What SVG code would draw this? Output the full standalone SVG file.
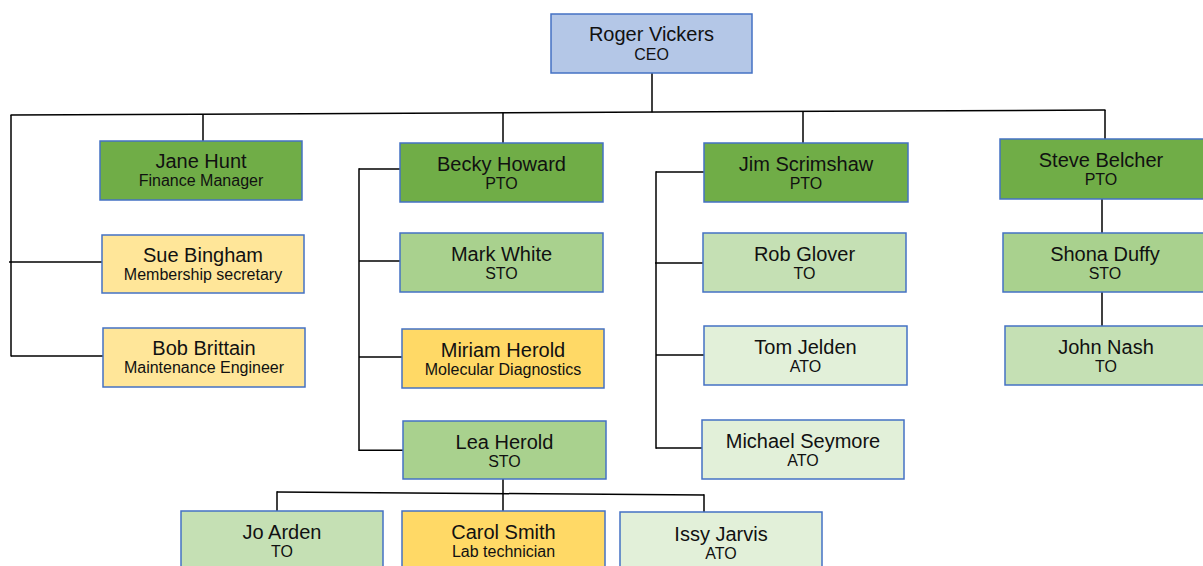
<svg xmlns="http://www.w3.org/2000/svg" width="1203" height="566" viewBox="0 0 1203 566">
<style>
.box{stroke:#4472C4;stroke-width:1.5}
.ceo{fill:#B4C7E7}
.g1{fill:#70AD47}
.g2{fill:#A9D18E}
.g3{fill:#C5E0B4}
.g4{fill:#E2F0D9}
.y1{fill:#FFE699}
.y2{fill:#FFD966}
text{font-family:"Liberation Sans",Arial,sans-serif;fill:#111;text-anchor:middle}
.n{font-size:20px}
.r{font-size:16px}
.c line{stroke:#000;stroke-width:1.5}
</style>
<rect width="1203" height="566" fill="#fff"/>
<g class="c" id="connectors">
<line x1="652" y1="73" x2="652" y2="112.2"/>
<line x1="10.5" y1="115" x2="1105.5" y2="110"/>
<line x1="203" y1="114.1" x2="203" y2="141"/>
<line x1="503" y1="112.8" x2="503" y2="143"/>
<line x1="803" y1="111.4" x2="803" y2="143"/>
<line x1="1105" y1="110" x2="1105" y2="139"/>
<line x1="11" y1="115" x2="11" y2="356.5"/>
<line x1="9" y1="262" x2="102" y2="262"/>
<line x1="11" y1="356" x2="103" y2="356"/>
<line x1="359" y1="169" x2="400" y2="169"/>
<line x1="359" y1="168.3" x2="359" y2="451"/>
<line x1="359" y1="261" x2="400" y2="261"/>
<line x1="359" y1="357" x2="402" y2="357"/>
<line x1="359" y1="450.3" x2="403" y2="450.3"/>
<line x1="656" y1="172" x2="704" y2="172"/>
<line x1="656" y1="171.3" x2="656" y2="448.7"/>
<line x1="655" y1="263" x2="703" y2="263"/>
<line x1="656" y1="355" x2="704" y2="355"/>
<line x1="656" y1="448" x2="702" y2="448"/>
<line x1="1102" y1="199" x2="1102" y2="233"/>
<line x1="1102" y1="292" x2="1102" y2="326"/>
<line x1="503" y1="479" x2="503" y2="511"/>
<line x1="277" y1="492" x2="704" y2="495"/>
<line x1="277" y1="491.3" x2="277" y2="511"/>
<line x1="704" y1="494.3" x2="704" y2="512"/>
</g>
<g id="roger-vickers"><rect class="box ceo" x="551" y="14" width="201" height="59"/><text class="n" x="651.5" y="41">Roger Vickers</text><text class="r" x="651.5" y="60">CEO</text></g>
<g id="jane-hunt"><rect class="box g1" x="100" y="141" width="202" height="59"/><text class="n" x="201" y="168">Jane Hunt</text><text class="r" x="201" y="186">Finance Manager</text></g>
<g id="sue-bingham"><rect class="box y1" x="102" y="235" width="202" height="58"/><text class="n" x="203" y="262">Sue Bingham</text><text class="r" x="203" y="280">Membership secretary</text></g>
<g id="bob-brittain"><rect class="box y1" x="103" y="328" width="202" height="59"/><text class="n" x="204" y="355">Bob Brittain</text><text class="r" x="204" y="373">Maintenance Engineer</text></g>
<g id="becky-howard"><rect class="box g1" x="400" y="143" width="203" height="59"/><text class="n" x="501.5" y="170.5">Becky Howard</text><text class="r" x="501.5" y="189">PTO</text></g>
<g id="mark-white"><rect class="box g2" x="400" y="233" width="203" height="59"/><text class="n" x="501.5" y="260.5">Mark White</text><text class="r" x="501.5" y="279">STO</text></g>
<g id="miriam-herold"><rect class="box y2" x="402" y="329" width="202" height="59"/><text class="n" x="503" y="357">Miriam Herold</text><text class="r" x="503" y="375">Molecular Diagnostics</text></g>
<g id="lea-herold"><rect class="box g2" x="403" y="421" width="203" height="58"/><text class="n" x="504.5" y="449">Lea Herold</text><text class="r" x="504.5" y="467">STO</text></g>
<g id="jim-scrimshaw"><rect class="box g1" x="704" y="143" width="204" height="59"/><text class="n" x="806" y="170.5">Jim Scrimshaw</text><text class="r" x="806" y="189">PTO</text></g>
<g id="rob-glover"><rect class="box g3" x="703" y="233" width="203" height="59"/><text class="n" x="804.5" y="260.5">Rob Glover</text><text class="r" x="804.5" y="279">TO</text></g>
<g id="tom-jelden"><rect class="box g4" x="704" y="326" width="203" height="59"/><text class="n" x="805.5" y="354">Tom Jelden</text><text class="r" x="805.5" y="372">ATO</text></g>
<g id="michael-seymore"><rect class="box g4" x="702" y="420" width="202" height="59"/><text class="n" x="803" y="448">Michael Seymore</text><text class="r" x="803" y="466">ATO</text></g>
<g id="steve-belcher"><rect class="box g1" x="1000" y="139" width="205" height="60"/><text class="n" x="1101" y="166.5">Steve Belcher</text><text class="r" x="1101" y="185">PTO</text></g>
<g id="shona-duffy"><rect class="box g2" x="1003" y="233" width="202" height="59"/><text class="n" x="1105" y="260.5">Shona Duffy</text><text class="r" x="1105" y="279">STO</text></g>
<g id="john-nash"><rect class="box g3" x="1005" y="326" width="200" height="59"/><text class="n" x="1106" y="354">John Nash</text><text class="r" x="1106" y="372">TO</text></g>
<g id="jo-arden"><rect class="box g3" x="181" y="511" width="202" height="59"/><text class="n" x="282" y="538.5">Jo Arden</text><text class="r" x="282" y="557">TO</text></g>
<g id="carol-smith"><rect class="box y2" x="402" y="511" width="203" height="59"/><text class="n" x="503.5" y="538.5">Carol Smith</text><text class="r" x="503.5" y="557">Lab technician</text></g>
<g id="issy-jarvis"><rect class="box g4" x="620" y="512" width="202" height="59"/><text class="n" x="721" y="541">Issy Jarvis</text><text class="r" x="721" y="559">ATO</text></g>
</svg>
